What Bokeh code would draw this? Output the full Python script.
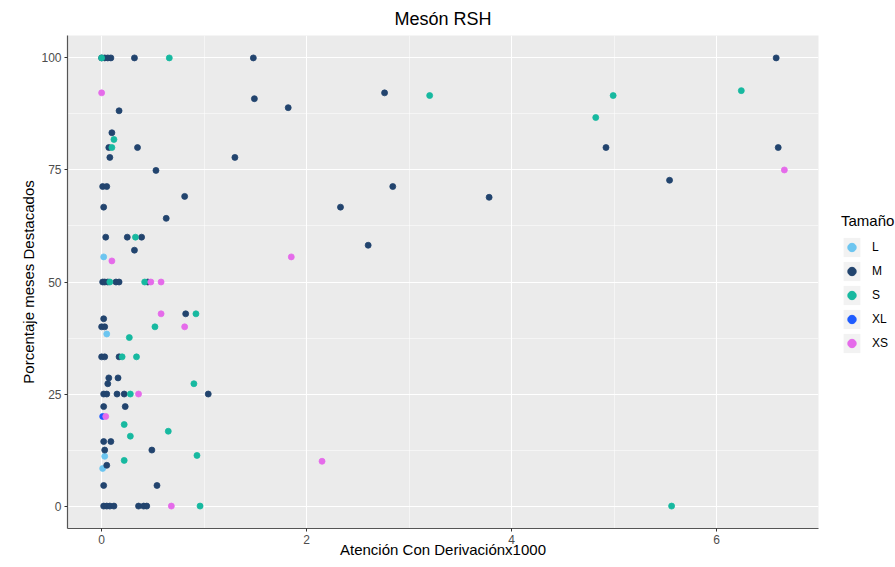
from bokeh.plotting import figure
from bokeh.layouts import row
from bokeh.models import (ColumnDataSource, Range1d, FixedTicker, Legend, LegendItem)
from bokeh.embed import file_html
from bokeh.resources import INLINE

# ---- data ----
groups = ["L", "M", "S", "XL", "XS"]
colors = ["#6CC5F0", "#22446E", "#17B9A0", "#1E5BFF", "#E56BEA"]

L_x = [0.02, 0.05, 0.03, 0.01]
L_y = [55.6, 38.4, 11.1, 8.4]

M_x = [0.0, 0.03, 0.06, 0.09, 0.32, 1.48, 6.58,
       0.17, 1.49, 1.82, 2.76, 0.10, 0.07, 0.35, 4.92, 6.60, 0.08, 1.30, 0.53,
       0.01, 0.05, 2.84, 5.54, 0.81, 3.78, 0.02, 2.33, 0.63, 0.04, 0.25, 0.39,
       2.60, 0.32,
       0.01, 0.03, 0.06, 0.14, 0.17, 0.45,
       0.82, 0.02, 0.0, 0.03,
       0.0, 0.03, 0.17,
       0.07, 0.16, 0.06,
       0.02, 0.05, 0.15, 0.22, 1.04,
       0.02, 0.23, 0.02, 0.09, 0.03, 0.49, 0.05, 0.02, 0.54,
       0.02, 0.05, 0.08, 0.12, 0.36, 0.41, 0.44]
M_y = [100, 100, 100, 100, 100, 100, 100,
       88.2, 90.9, 88.9, 92.2, 83.3, 80, 80, 80, 80, 77.8, 77.8, 74.9,
       71.3, 71.3, 71.3, 72.7, 69.1, 68.9, 66.7, 66.7, 64.2, 60, 60, 60,
       58.2, 57.1,
       50, 50, 50, 50, 50, 50,
       42.9, 41.8, 40, 40,
       33.3, 33.3, 33.3,
       28.6, 28.6, 27.3,
       25, 25, 25, 25, 25,
       22.2, 22.2, 14.4, 14.4, 12.5, 12.5, 9.1, 4.6, 4.6,
       0, 0, 0, 0, 0, 0, 0]

S_x = [0.0, 0.66, 3.20, 4.82, 4.99, 6.24, 0.12, 0.10, 0.33, 0.08, 0.42, 0.92,
       0.52, 0.27, 0.20, 0.34, 0.90, 0.28, 0.22, 0.65, 0.28, 0.93, 0.22, 0.96, 5.56]
S_y = [100, 100, 91.6, 86.7, 91.6, 92.7, 81.8, 80, 60, 50, 50, 42.9,
       40, 37.6, 33.3, 33.3, 27.3, 25, 18.2, 16.7, 15.6, 11.3, 10.2, 0, 0]

XL_x = [0.01]
XL_y = [20]

XS_x = [0.0, 0.10, 0.48, 0.58, 0.58, 0.81, 0.36, 0.04, 0.68, 1.85, 2.15, 6.66]
XS_y = [92.2, 54.7, 50, 50, 42.9, 40, 25, 20, 0, 55.6, 10, 75]

x_ticks = [0, 2, 4, 6]
x_minor = [1, 3, 5]
y_ticks = [0, 25, 50, 75, 100]
y_minor = [12.5, 37.5, 62.5, 87.5]

series = {"L": (L_x, L_y), "M": (M_x, M_y), "S": (S_x, S_y),
          "XL": (XL_x, XL_y), "XS": (XS_x, XS_y)}

all_x = L_x + M_x + S_x + XL_x + XS_x
all_y = L_y + M_y + S_y + XL_y + XS_y
xr = max(all_x) - min(all_x)
yr = max(all_y) - min(all_y)
x_rng = (min(all_x) - 0.05 * xr, max(all_x) + 0.05 * xr)
y_rng = (min(all_y) - 0.05 * yr, max(all_y) + 0.05 * yr)

FONT = "Liberation Sans"

p = figure(width=838, height=567, output_backend="svg", toolbar_location=None,
           x_range=Range1d(*x_rng), y_range=Range1d(*y_rng),
           min_border_left=67, min_border_right=20, min_border_top=34,
           min_border_bottom=39)

p.background_fill_color = "#EBEBEB"
p.border_fill_color = "white"
p.outline_line_color = None

p.title.text = "Mesón RSH"
p.title.align = "center"
p.title.text_font = FONT
p.title.text_font_size = "18px"
p.title.text_font_style = "normal"
p.title.text_color = "black"
p.title.standoff = 13

for ax, major, minor in ((p.xaxis[0], x_ticks, x_minor), (p.yaxis[0], y_ticks, y_minor)):
    ax.ticker = FixedTicker(ticks=major, minor_ticks=minor)
    ax.major_label_text_font = FONT
    ax.major_label_text_font_size = "12px"
    ax.major_label_text_color = "#4D4D4D"
    ax.major_tick_in = 0
    ax.major_tick_out = 3
    ax.major_tick_line_color = "#333333"
    ax.minor_tick_line_color = None
    ax.axis_line_color = "#555555"
    ax.axis_line_width = 1.2
    ax.major_label_standoff = 2
    ax.axis_label_text_font = FONT
    ax.axis_label_text_font_size = "15px"
    ax.axis_label_text_font_style = "normal"
    ax.axis_label_text_color = "black"
    ax.axis_label_standoff = 1

p.xaxis.axis_label = "Atención Con Derivaciónx1000"
p.xaxis.axis_label_standoff = -6
p.yaxis.axis_label = "Porcentaje meses Destacados"

for g in (p.xgrid[0], p.ygrid[0]):
    g.grid_line_color = "white"
    g.grid_line_width = 1.1
    g.minor_grid_line_color = "white"
    g.minor_grid_line_width = 0.5

p.xgrid[0].ticker = FixedTicker(ticks=x_ticks, minor_ticks=x_minor)
p.ygrid[0].ticker = FixedTicker(ticks=y_ticks, minor_ticks=y_minor)

# legend panel as a separate, axis-less figure
lg = figure(width=57, height=567, output_backend="svg", toolbar_location=None,
            x_range=Range1d(*x_rng), y_range=Range1d(*y_rng),
            x_axis_type=None, y_axis_type=None, min_border=0)
lg.outline_line_color = None
lg.background_fill_color = "white"
lg.border_fill_color = "white"
lg.xgrid.visible = False
lg.ygrid.visible = False

items = []
for g, c in zip(groups, colors):
    xs, ys = series[g]
    src = ColumnDataSource(dict(x=xs, y=ys))
    p.scatter("x", "y", source=src, size=6, fill_color=c, line_color=c,
              line_width=0.8)
    key = lg.rect("x", "y", width=0.1, height=1, source=src, fill_color="#F2F2F2",
                  line_color=None, visible=False)
    dot = lg.scatter("x", "y", source=src, size=6, fill_color=c, line_color=c,
                     visible=False)
    items.append(LegendItem(label=g, renderers=[key, dot]))

legend = Legend(items=items, location=(3, 173), title="Tamaño",
                title_text_font=FONT, title_text_font_size="15px",
                title_text_font_style="normal", title_text_color="black",
                label_text_font=FONT, label_text_font_size="12px",
                label_text_color="black", glyph_width=21, glyph_height=24,
                spacing=0, padding=0, margin=0, label_standoff=10,
                title_standoff=6, border_line_color=None,
                background_fill_color="white", background_fill_alpha=1.0)
lg.add_layout(legend, "center")

layout = row(p, lg, spacing=0)
open("out.html", "w").write(file_html(layout, INLINE))
